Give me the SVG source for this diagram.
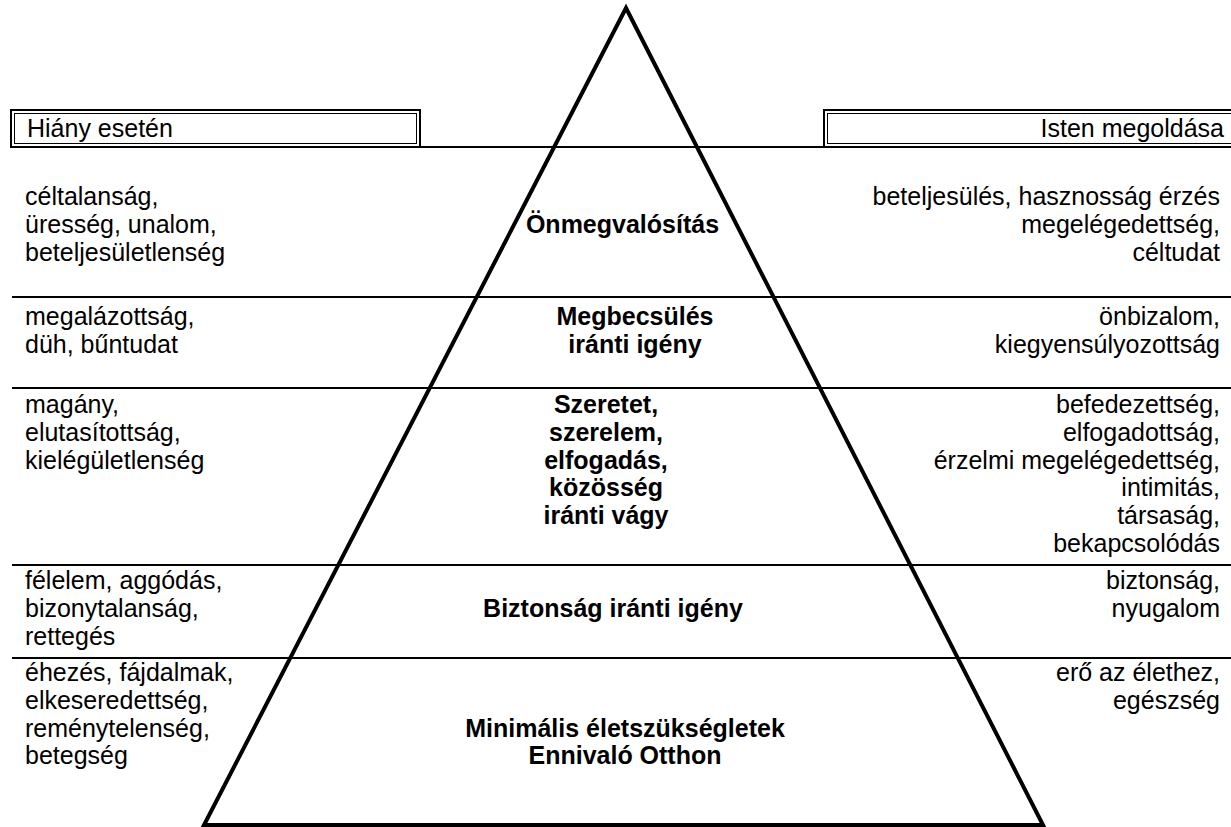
<svg xmlns="http://www.w3.org/2000/svg" width="1231" height="827" viewBox="0 0 1231 827">
<style>
text{font-family:"Liberation Sans",Arial,sans-serif;font-size:25px;fill:#000}
.b{font-weight:bold;text-anchor:middle}
.r{text-anchor:end}
.hl{stroke:#000;stroke-width:2;fill:none}
.o{stroke:#000;stroke-width:2;fill:#fff}
.i{stroke:#000;stroke-width:1;fill:none}
</style>
<rect width="1231" height="827" fill="#fff"/>
<g id="connectors">
<line class="hl" x1="420" y1="147" x2="824" y2="147"/>
<line class="hl" x1="12" y1="297" x2="1231" y2="297"/>
<line class="hl" x1="12" y1="388" x2="1231" y2="388"/>
<line class="hl" x1="12" y1="565" x2="1231" y2="565"/>
<line class="hl" x1="12" y1="658" x2="1231" y2="658"/>
</g>
<g id="pyramid">
<polygon points="626,8 204,825 1043,825" fill="none" stroke="#000" stroke-width="4"/>
</g>
<g id="header-left">
<rect class="o" x="11" y="110" width="409" height="37"/>
<rect class="i" x="14.5" y="113.5" width="402" height="30"/>
<text x="27" y="137">Hiány esetén</text>
</g>
<g id="header-right">
<rect class="o" x="824" y="110" width="420" height="37"/>
<rect class="i" x="827.5" y="113.5" width="420" height="30"/>
<text class="r" x="1224" y="137">Isten megoldása</text>
</g>
<g id="level1">
<text class="b" x="622.5" y="233">Önmegvalósítás</text>
<text x="25" y="205">céltalanság,</text>
<text x="25" y="233">üresség, unalom,</text>
<text x="25" y="260.5">beteljesületlenség</text>
<text class="r" x="1220" y="205">beteljesülés, hasznosság érzés</text>
<text class="r" x="1220" y="233">megelégedettség,</text>
<text class="r" x="1220" y="260.5">céltudat</text>
</g>
<g id="level2">
<text class="b" x="635" y="325">Megbecsülés</text>
<text class="b" x="635" y="353">iránti igény</text>
<text x="25" y="325">megalázottság,</text>
<text x="25" y="353">düh, bűntudat</text>
<text class="r" x="1220" y="325">önbizalom,</text>
<text class="r" x="1220" y="353">kiegyensúlyozottság</text>
</g>
<g id="level3">
<text class="b" x="606" y="413">Szeretet,</text>
<text class="b" x="606" y="441">szerelem,</text>
<text class="b" x="606" y="468.5">elfogadás,</text>
<text class="b" x="606" y="496">közösség</text>
<text class="b" x="606" y="524">iránti vágy</text>
<text x="25" y="413">magány,</text>
<text x="25" y="441">elutasítottság,</text>
<text x="25" y="468.5">kielégületlenség</text>
<text class="r" x="1220" y="413">befedezettség,</text>
<text class="r" x="1220" y="441">elfogadottság,</text>
<text class="r" x="1220" y="468.5">érzelmi megelégedettség,</text>
<text class="r" x="1220" y="496">intimitás,</text>
<text class="r" x="1220" y="524">társaság,</text>
<text class="r" x="1220" y="552">bekapcsolódás</text>
</g>
<g id="level4">
<text class="b" x="613" y="617">Biztonság iránti igény</text>
<text x="25" y="589">félelem, aggódás,</text>
<text x="25" y="617">bizonytalanság,</text>
<text x="25" y="644.5">rettegés</text>
<text class="r" x="1220" y="589">biztonság,</text>
<text class="r" x="1220" y="617">nyugalom</text>
</g>
<g id="level5">
<text class="b" x="625" y="736.5">Minimális életszükségletek</text>
<text class="b" x="625" y="764">Ennivaló Otthon</text>
<text x="25" y="681">éhezés, fájdalmak,</text>
<text x="25" y="709">elkeseredettség,</text>
<text x="25" y="736.5">reménytelenség,</text>
<text x="25" y="764">betegség</text>
<text class="r" x="1220" y="681">erő az élethez,</text>
<text class="r" x="1220" y="709">egészség</text>
</g>
</svg>
